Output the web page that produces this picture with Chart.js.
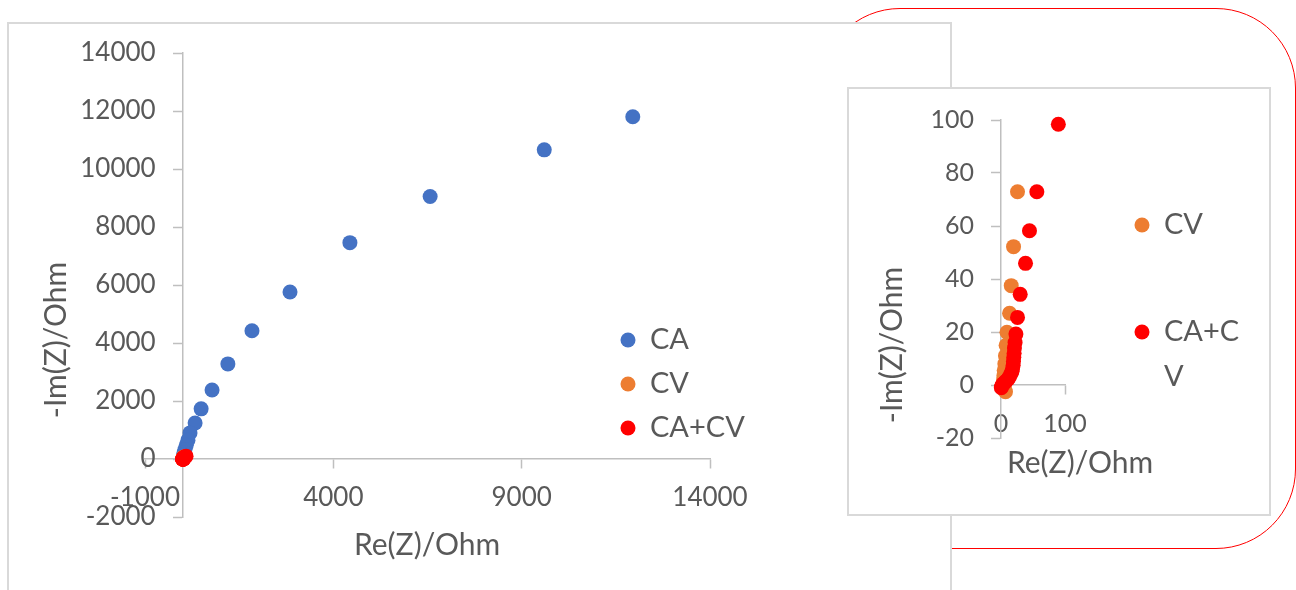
<!DOCTYPE html>
<html>
<head>
<meta charset="utf-8">
<title>Impedance</title>
<script src="https://cdn.jsdelivr.net/npm/chart.js@4.4.1/dist/chart.umd.min.js"></script>
<style>
  html, body { margin: 0; padding: 0; background: #fff; width: 1296px; height: 590px; overflow: hidden; }
  .box { position: absolute; box-sizing: border-box; background: #fff; }
  #frame { left: 820px; top: 8px; width: 476px; height: 541px; border: 1.5px solid #ff0000; border-radius: 80px; background: transparent; z-index: 1; }
  #mainBox { left: 7px; top: 22px; width: 945px; height: 620px; border: 2px solid #d9d9d9; z-index: 2; }
  #insetBox { left: 847px; top: 87px; width: 424px; height: 429px; border: 2px solid #d9d9d9; z-index: 4; }
  canvas { position: absolute; }
  #mainChart { left: 0; top: 0; z-index: 3; }
  #insetChart { left: 848px; top: 88px; z-index: 5; }
</style>
</head>
<body>
<div id="frame" class="box"></div>
<div id="mainBox" class="box"></div>
<canvas id="mainChart" width="951" height="590"></canvas>
<div id="insetBox" class="box"></div>
<canvas id="insetChart" width="423" height="428"></canvas>
<script>
// Nyquist data, Re(Z) and -Im(Z) in Ohm
const caRe = [11950, 9600, 6570, 4440, 2850, 1840, 1200, 780, 490, 330, 195, 140, 95, 62, 40, 25, 15];
const caIm = [11800, 10660, 9050, 7460, 5760, 4420, 3280, 2380, 1730, 1240, 900, 650, 470, 330, 220, 140, 80];

const cvRe = [25.8, 19.6, 16.0, 13.4, 9.3, 8, 7, 6, 5, 4.5, 4, 4, 4.5, 5.5, 7];
const cvIm = [72.9, 52.2, 37.5, 27.1, 19.9, 15, 11, 8, 5.5, 3.5, 2, 0.5, -0.5, -1.5, -2.5];

const cacvRe = [89.6, 56.0, 44.5, 38.3, 30.0, 25.8, 23.3, 22, 21, 20.5, 20, 19.5, 19, 18, 17, 15, 13, 11, 8, 6, 4, 2, 1, 0.5];
const cacvIm = [98.4, 72.9, 58.2, 45.9, 34.2, 25.5, 19.2, 16, 14, 12, 10.5, 9, 7.5, 6, 5, 4, 3, 2.2, 1.5, 1, 0.5, 0, -0.5, -1];

const seriesNames = ['CA', 'CV', 'CA+CV'];
const seriesColors = ['#4472c4', '#ed7d31', '#ff0000'];

const mainXTicks = [-1000, 14000, 5000];   // min, max, step
const mainYTicks = [-2000, 14000, 2000];
const insetXTicks = [0, 100, 100];
const insetYTicks = [-20, 100, 20];

const TEXT_COLOR = '#595959';
const AXIS_COLOR = '#bfbfbf';
const FONT = 'Lato';

Chart.defaults.font.family = FONT;
Chart.defaults.animation = false;

const toPoints = (xs, ys) => xs.map((x, i) => ({ x, y: ys[i] }));

const makeDataset = (idx, xs, ys) => ({
  label: seriesNames[idx],
  data: toPoints(xs, ys),
  backgroundColor: seriesColors[idx],
  borderWidth: 0,
  pointRadius: 7.5,
  pointHoverRadius: 7.5,
  showLine: false,
  clip: false,
  order: 3 - idx   // later series drawn on top
});

// value axis crossing the other one at zero
const valueAxis = ([min, max, step], size, padding, cross, showLabels) => ({
  type: 'linear',
  min, max,
  position: cross,
  border: { display: true, color: AXIS_COLOR, width: 1.5 },
  grid: { display: true, drawOnChartArea: false, drawTicks: true, tickLength: 9, tickColor: AXIS_COLOR, tickWidth: 1.5 },
  ticks: {
    display: showLabels,
    stepSize: step,
    padding,
    color: TEXT_COLOR,
    font: { size, family: FONT },
    autoSkip: false,
    maxRotation: 0,
    callback: v => String(v)
  }
});

const wrapText = (ctx, text, maxWidth) => {
  const lines = [];
  let line = '';
  for (const ch of text) {
    if (line && ctx.measureText(line + ch).width > maxWidth) {
      lines.push(line);
      line = ch;
    } else {
      line += ch;
    }
  }
  lines.push(line);
  return lines;
};

// y tick labels, axis titles and legend
const decor = {
  id: 'decor',
  afterDraw(chart, args, opts) {
    const ctx = chart.ctx;
    const xScale = chart.scales.x;
    const yScale = chart.scales.y;
    ctx.save();
    ctx.fillStyle = TEXT_COLOR;
    ctx.textBaseline = 'middle';

    // y labels sit left of the crossing axis, past the tick marks
    const yt = yScale.options.ticks;
    const labelRight = xScale.getPixelForValue(0) - yScale.options.grid.tickLength - yt.padding;
    ctx.textAlign = 'right';
    ctx.font = `${yt.font.size}px ${FONT}`;
    yScale.ticks.forEach(t => {
      ctx.fillText(String(t.value), labelRight, yScale.getPixelForValue(t.value));
    });

    ctx.textAlign = 'center';
    ctx.font = `${opts.titleSize}px ${FONT}`;
    ctx.fillText(opts.xTitle.text, opts.xTitle.x, opts.xTitle.y);
    ctx.save();
    ctx.translate(opts.yTitle.x, opts.yTitle.y);
    ctx.rotate(-Math.PI / 2);
    ctx.fillText(opts.yTitle.text, 0, 0);
    ctx.restore();

    const lg = opts.legend;
    ctx.textAlign = 'left';
    ctx.font = `${lg.size}px ${FONT}`;
    chart.data.datasets.forEach((ds, i) => {
      const y = lg.ys[i];
      ctx.fillStyle = ds.backgroundColor;
      ctx.beginPath();
      ctx.arc(lg.markerX, y, 7.5, 0, Math.PI * 2);
      ctx.fill();
      ctx.fillStyle = TEXT_COLOR;
      wrapText(ctx, ds.label, lg.maxWidth).forEach((line, j) => {
        ctx.fillText(line, lg.textX, y + j * lg.lineHeight);
      });
    });
    ctx.restore();
  }
};

// main chart: all three series
new Chart(document.getElementById('mainChart'), {
  type: 'scatter',
  data: {
    datasets: [
      makeDataset(0, caRe, caIm),
      makeDataset(1, cvRe, cvIm),
      makeDataset(2, cacvRe, cacvIm)
    ]
  },
  options: {
    responsive: false,
    events: [],
    layout: { padding: { left: 145, right: 241, top: 53, bottom: 73 } },
    plugins: {
      legend: { display: false },
      tooltip: { enabled: false },
      decor: {
        titleSize: 30,
        xTitle: { text: 'Re(Z)/Ohm', x: 427, y: 545 },
        yTitle: { text: '-Im(Z)/Ohm', x: 56, y: 340 },
        legend: { size: 29, markerX: 628, textX: 650, ys: [340, 384, 428], maxWidth: 200, lineHeight: 34 }
      }
    },
    scales: {
      x: valueAxis(mainXTicks, 26, 14, { y: 0 }, true),
      y: valueAxis(mainYTicks, 26, 18, { x: 0 }, false)
    }
  },
  plugins: [decor]
});

// zoomed view near the origin: CV and CA+CV
new Chart(document.getElementById('insetChart'), {
  type: 'scatter',
  data: {
    datasets: [
      makeDataset(1, cvRe, cvIm),
      makeDataset(2, cacvRe, cacvIm)
    ]
  },
  options: {
    responsive: false,
    events: [],
    layout: { padding: { left: 153, right: 206, top: 32, bottom: 78 } },
    plugins: {
      legend: { display: false },
      tooltip: { enabled: false },
      decor: {
        titleSize: 30,
        xTitle: { text: 'Re(Z)/Ohm', x: 232, y: 375 },
        yTitle: { text: '-Im(Z)/Ohm', x: 44, y: 257 },
        legend: { size: 29, markerX: 294, textX: 316, ys: [137, 244], maxWidth: 85, lineHeight: 45 }
      }
    },
    scales: {
      x: valueAxis(insetXTicks, 25, 15, { y: 0 }, true),
      y: valueAxis(insetYTicks, 25, 18, { x: 0 }, false)
    }
  },
  plugins: [decor]
});
</script>
</body>
</html>
